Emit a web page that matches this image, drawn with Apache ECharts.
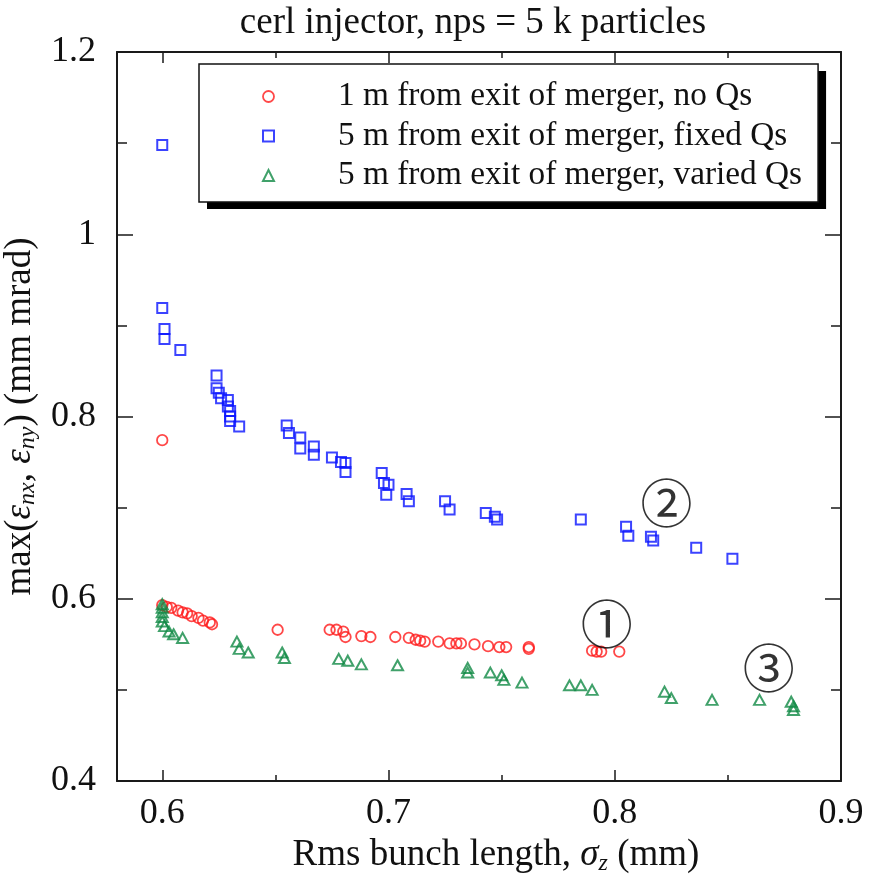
<!DOCTYPE html>
<html><head><meta charset="utf-8">
<script src="https://cdn.jsdelivr.net/npm/echarts@6/dist/echarts.min.js"></script>
<style>html,body{margin:0;padding:0;background:#fff}#c{width:870px;height:876px}</style>
</head><body><div id="c"></div>
<script>
const titleText = 'cerl injector, nps = 5 k particles';
const seriesNames = [
  '1 m from exit of merger, no Qs',
  '5 m from exit of merger, fixed Qs',
  '5 m from exit of merger, varied Qs'
];
// 1 m from exit of merger, no Qs  [sigma_z (mm), max emittance (mm mrad)]
const noQs = [
  [0.600,0.774],[0.600,0.593],[0.602,0.591],[0.604,0.590],[0.607,0.587],[0.609,0.585],
  [0.611,0.584],[0.613,0.581],[0.616,0.579],[0.618,0.576],[0.621,0.574],[0.622,0.572],
  [0.651,0.566],[0.674,0.566],[0.677,0.566],[0.680,0.564],[0.681,0.558],[0.688,0.559],
  [0.692,0.558],[0.703,0.558],[0.709,0.557],[0.712,0.555],[0.714,0.554],[0.716,0.553],
  [0.722,0.553],[0.727,0.551],[0.730,0.551],[0.732,0.551],[0.738,0.550],[0.744,0.548],
  [0.749,0.547],[0.752,0.547],[0.762,0.547],[0.762,0.545],[0.790,0.543],[0.792,0.542],
  [0.794,0.542],[0.802,0.542]
];
// 5 m from exit of merger, fixed Qs
const fixedQs = [
  [0.600,1.098],[0.600,0.919],[0.601,0.896],[0.601,0.885],[0.608,0.873],[0.624,0.845],
  [0.624,0.831],[0.625,0.826],[0.626,0.820],[0.629,0.818],[0.629,0.811],[0.630,0.806],
  [0.630,0.800],[0.630,0.795],[0.634,0.789],[0.655,0.790],[0.656,0.782],[0.661,0.777],
  [0.661,0.765],[0.667,0.767],[0.667,0.758],[0.675,0.755],[0.679,0.750],[0.681,0.749],
  [0.681,0.739],[0.697,0.738],[0.698,0.727],[0.700,0.725],[0.699,0.714],[0.708,0.715],
  [0.709,0.707],[0.725,0.707],[0.727,0.698],[0.743,0.694],[0.747,0.690],[0.748,0.687],
  [0.785,0.687],[0.805,0.679],[0.806,0.669],[0.816,0.668],[0.817,0.664],[0.836,0.656],
  [0.852,0.644]
];
// 5 m from exit of merger, varied Qs
const variedQs = [
  [0.600,0.594],[0.600,0.590],[0.600,0.585],[0.600,0.580],[0.600,0.575],[0.601,0.570],
  [0.603,0.564],[0.605,0.561],[0.609,0.557],[0.633,0.553],[0.634,0.545],[0.638,0.541],
  [0.653,0.541],[0.654,0.535],[0.678,0.534],[0.682,0.532],[0.688,0.528],[0.704,0.527],
  [0.735,0.524],[0.735,0.519],[0.745,0.519],[0.750,0.516],[0.751,0.511],[0.759,0.508],
  [0.780,0.505],[0.785,0.505],[0.790,0.500],[0.822,0.498],[0.825,0.491],[0.843,0.489],
  [0.864,0.489],[0.878,0.487],[0.879,0.482],[0.879,0.478]
];
// circled annotation labels [x, y, text]
const annotations = [[0.7965,0.572,'①'],[0.8229,0.705,'②'],[0.8681,0.5235,'③']];

const colors = ['#ff1a1a','#0a14ff','#108a45'];
const serif = '"Liberation Serif","DejaVu Serif",serif';

const chart = echarts.init(document.getElementById('c'), null, {renderer:'canvas'});

const axisLineStyle = {color:'#1a1a1a', width:2};
function xAxisDef(pos, showLabel){
  return {
    type:'value', position:pos, min:0.58, max:0.9, splitNumber:3,
    axisLine:{show:true, onZero:false, lineStyle:axisLineStyle},
    axisTick:{show:true, inside:true, length:11, lineStyle:{color:'#1a1a1a', width:1.5}},
    minorTick:{show:true, splitNumber:2, length:6, lineStyle:{color:'#1a1a1a', width:1.5}},
    splitLine:{show:false},
    axisLabel:{show:showLabel, showMinLabel:false, margin:15, color:'#111', fontFamily:serif, fontSize:36,
      formatter:v=>(+v).toFixed(1)},
  };
}
function yAxisDef(pos, showLabel){
  return {
    type:'value', position:pos, min:0.4, max:1.2, interval:0.2,
    axisLine:{show:true, onZero:false, lineStyle:axisLineStyle},
    axisTick:{show:true, inside:true, length:16, lineStyle:{color:'#1a1a1a', width:1.5}},
    minorTick:{show:true, splitNumber:2, length:10, lineStyle:{color:'#1a1a1a', width:1.5}},
    splitLine:{show:false},
    axisLabel:{show:showLabel, margin:21, color:'#111', fontFamily:serif, fontSize:36,
      formatter:v=>String(+(+v).toFixed(1))},
  };
}

const nameRich = {
  t:{fontFamily:serif, fontSize:37, color:'#111', lineHeight:40, verticalAlign:'middle'},
  i:{fontFamily:serif, fontSize:37, fontStyle:'italic', color:'#111', lineHeight:40, verticalAlign:'middle'},
  s:{fontFamily:serif, fontSize:24, fontStyle:'italic', color:'#111', lineHeight:18, verticalAlign:'bottom'}
};
const xa0 = xAxisDef('bottom', true);
xa0.name = '{t|Rms bunch length, }{i|σ}{s|z}{t| (mm)}';
xa0.nameLocation = 'middle';
xa0.nameGap = 51;
xa0.nameTextStyle = {rich:nameRich, padding:[0,0,0,34]};
const ya0 = yAxisDef('left', true);
ya0.name = '{t|max(}{i|ε}{s|nx}{t|, }{i|ε}{s|ny}{t|) (mm mrad)}';
ya0.nameLocation = 'middle';
ya0.nameGap = 50;
ya0.nameRotate = 90;
ya0.nameTextStyle = {rich:nameRich};

function legendDef(front){
  const tc = front ? '#111' : 'rgba(0,0,0,0)';
  const ic = c => front ? c : 'rgba(0,0,0,0)';
  const l = {
    orient:'vertical', left:199, top:64,
    padding:[16, 16, 10, 63],
    itemWidth:11, itemHeight:11, itemGap:6.5,
    selectedMode:false, z: front ? 6 : 5,
    formatter:name=>'{sp|}{t|'+name+'}',
    textStyle:{rich:{
      sp:{width:59},
      t:{fontFamily:serif, fontSize:33.3, color:tc, lineHeight:30}
    }},
    data:[
      {name:seriesNames[0], icon:'circle', itemStyle:{color:'rgba(255,255,255,0)', borderColor:ic(colors[0]), borderWidth:1.8}},
      {name:seriesNames[1], icon:'rect', itemStyle:{color:'rgba(255,255,255,0)', borderColor:ic(colors[1]), borderWidth:2}},
      {name:seriesNames[2], icon:'triangle', itemStyle:{color:'rgba(255,255,255,0)', borderColor:ic(colors[2]), borderWidth:2}}
    ]
  };
  if (front) {
    l.backgroundColor = 'rgba(0,0,0,0)'; l.borderColor = '#111'; l.borderWidth = 1.5;
  } else {
    l.backgroundColor = '#fff'; l.borderWidth = 0;
    l.shadowColor = '#000'; l.shadowBlur = 0; l.shadowOffsetX = 8; l.shadowOffsetY = 7;
  }
  return l;
}

const option = {
  backgroundColor:'#fff',
  animation:false,
  title:{text:titleText, left:468, textAlign:'center', top:0,
    textStyle:{fontFamily:serif, fontSize:37, fontWeight:'normal', color:'#111'}},
  grid:{left:117, right:29, top:52, bottom:95, containLabel:false, outerBoundsMode:'none'},
  xAxis:[xa0, xAxisDef('top', false)],
  yAxis:[ya0, yAxisDef('right', false)],
  legend:[legendDef(false), legendDef(true)],
  series:[
    {name:seriesNames[0], type:'scatter', data:noQs, symbol:'circle', symbolSize:10.5,
      itemStyle:{color:'rgba(255,255,255,0)', borderColor:colors[0], borderWidth:1.8}, z:3},
    {name:seriesNames[1], type:'scatter', data:fixedQs, symbol:'rect', symbolSize:10,
      itemStyle:{color:'rgba(255,255,255,0)', borderColor:colors[1], borderWidth:2}, z:3},
    {name:seriesNames[2], type:'scatter', data:variedQs, symbol:'triangle', symbolSize:[11,10],
      itemStyle:{color:'rgba(255,255,255,0)', borderColor:colors[2], borderWidth:2}, z:3},
    {name:'annotations', type:'scatter', data:annotations, symbol:'circle', symbolSize:1,
      itemStyle:{color:'rgba(0,0,0,0)'}, silent:true, z:4,
      label:{show:true, position:'inside', formatter:p=>p.data[2],
        fontFamily:'"Noto Sans CJK JP","DejaVu Sans",sans-serif', fontSize:52, color:'#000'}}
  ]
};
chart.setOption(option);
</script>
</body></html>
